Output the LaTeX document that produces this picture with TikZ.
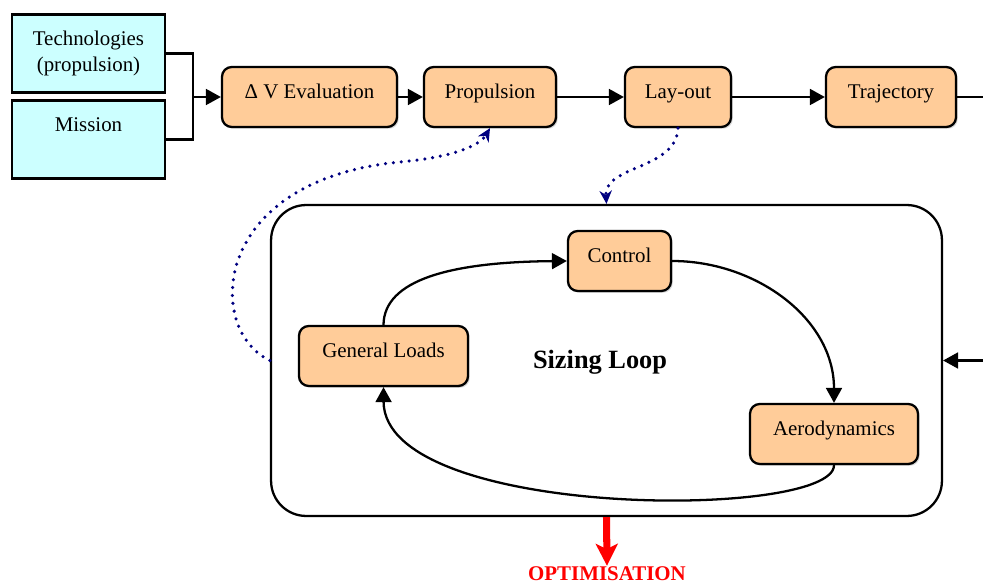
\documentclass[tikz,border=0pt]{standalone}
\usepackage{fontspec}
\setmainfont{Liberation Serif}
\usetikzlibrary{arrows.meta, positioning, shadows}
\definecolor{inputcyan}{RGB}{204, 255, 255}
\definecolor{steporange}{RGB}{255, 204, 153}
\definecolor{linknavy}{RGB}{0, 0, 128}
\definecolor{optred}{RGB}{255, 0, 0}

\begin{document}
\begin{tikzpicture}[
    x=0.02cm, y=-0.02cm,
    every node/.style={font=\fontsize{11.9}{14.7}\selectfont},
    inputbox/.style={rectangle, draw=black, fill=inputcyan, line width=1.3pt,
                     minimum width=3.06cm, minimum height=1.56cm, align=center},
    stepbox/.style={rectangle, draw=black, fill=steporange, rounded corners=5.5pt,
                    line width=1.3pt, minimum height=1.2cm, text height=0.75em, text depth=0.6em,
                    drop shadow={shadow xshift=1pt, shadow yshift=-1pt, opacity=0.3}},
    loopbox/.style={rectangle, draw=black, rounded corners=20pt, line width=1.3pt,
                    minimum width=13.42cm, minimum height=6.22cm},
    arrow/.style={-{Triangle[length=8.5pt, width=9pt]}, line width=1.3pt},
    link/.style={-{Stealth[length=7.5pt, width=7pt]}, color=linknavy, line width=2pt,
                 line cap=round, dash pattern=on 0pt off 4.5pt},
    optarrow/.style={-{Stealth[length=12.5pt, width=12.5pt, inset=3pt]}, line width=4pt, color=optred}
]
\useasboundingbox (0,0) rectangle (983,584);

% Inputs
\node[inputbox] (tech) at (88.5,53.5) {Technologies\\(propulsion)};
\node[inputbox, text height=0.75em, text depth=1.61em] (mission) at (88.5,139.5) {Mission};

% Main chain
\node[stepbox, minimum width=3.5cm] (dv) at (309.5,97) {Δ V Evaluation};
\node[stepbox, minimum width=2.64cm] (prop) at (490,97) {Propulsion};
\node[stepbox, minimum width=2.12cm] (layout) at (678,97) {Lay-out};
\node[stepbox, minimum width=2.6cm] (traj) at (891,97) {Trajectory};

% Sizing loop
\node[loopbox] (loop) at (606.5,360.5) {};
\node[font=\bfseries\fontsize{15}{18}\selectfont] (sizing) at (600,362) {Sizing Loop};
\node[stepbox, minimum width=2.06cm] (ctrl) at (619.5,261) {Control};
\node[stepbox, minimum width=3.38cm] (gl) at (383.5,356) {General Loads};
\node[stepbox, minimum width=3.36cm] (aero) at (834,434) {Aerodynamics};

% Output
\node[font=\bfseries\fontsize{11.9}{14.7}\selectfont, text=optred, inner sep=0pt, anchor=base] (opt) at (607,580) {OPTIMISATION};

% Free ends
\coordinate (join) at (193,97);
\coordinate (trajout) at (983,97);
\coordinate (loopin) at (983,360.5);

% Main arrows
\draw[line width=1.3pt] (tech.east) -| (join);
\draw[line width=1.3pt] (mission.east) -| (join);
\draw[arrow] (join) -- (dv.west);
\draw[arrow] (dv) -- (prop);
\draw[arrow] (prop) -- (layout);
\draw[arrow] (layout) -- (traj);
\draw[line width=1.3pt] (traj.east) -- (trajout);
\draw[arrow] (loopin) -- (loop.east);

% Loop arrows
\draw[arrow] (gl.north) .. controls (384,280) and (450,262) .. (ctrl.west);
\draw[arrow] (ctrl.east) to[out=0, in=90] (aero.north);
\draw[arrow] (aero.south) .. controls (834,520) and (384,520) .. (gl.south);

% Dotted links
\draw[link] (loop.west) .. controls (205,330) and (210,180) .. (400,162) .. controls (455,157) and (480,145) .. (prop.south);
\draw[link] (layout.south) .. controls (676,170) and (604,165) .. (loop.north);

% Optimisation
\draw[optarrow] (loop.south) -- (opt.north);

\end{tikzpicture}
\end{document}
